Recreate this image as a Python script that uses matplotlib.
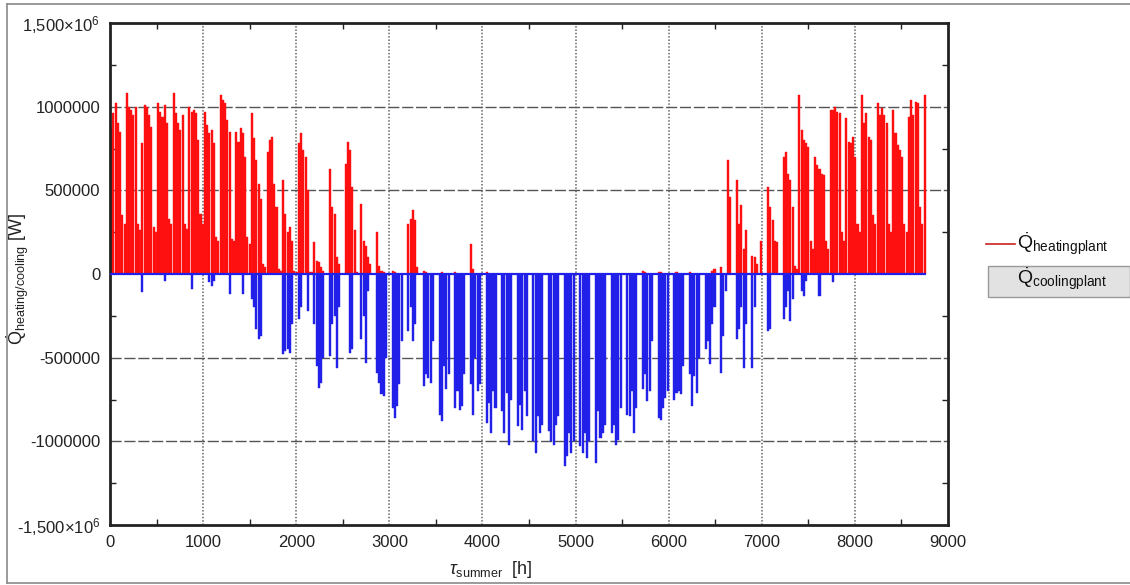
import numpy as np
import matplotlib
matplotlib.use("Agg")
import matplotlib.pyplot as plt
from matplotlib.patches import Rectangle
from matplotlib.lines import Line2D

plt.rcParams['font.family'] = ['Liberation Sans', 'DejaVu Sans']
plt.rcParams['mathtext.fontset'] = 'custom'
plt.rcParams['mathtext.rm'] = 'Liberation Sans'
plt.rcParams['mathtext.it'] = 'Liberation Sans:italic'
plt.rcParams['axes.unicode_minus'] = False

# Daily peak heating load of the plant [kW], one row per week (Mon..Sun)
heating_kw = [
    [880, 960, 1020, 900, 850, 350, 300],
    [1080, 1000, 980, 950, 1000, 300, 260],
    [780, 1010, 1000, 950, 880, 280, 250],
    [1020, 970, 940, 1010, 900, 330, 300],
    [1080, 960, 900, 860, 950, 300, 270],
    [1000, 970, 980, 960, 800, 360, 300],
    [970, 890, 840, 860, 780, 220, 200],
    [1070, 1040, 1020, 920, 850, 210, 200],
    [850, 790, 870, 840, 700, 220, 180],
    [960, 810, 680, 540, 450, 60, 40],
    [730, 800, 820, 540, 400, 30, 20],
    [560, 360, 250, 280, 200, 20, 10],
    [780, 840, 740, 700, 500, 10, 10],
    [190, 80, 70, 40, 20, 0, 0],
    [630, 400, 360, 100, 60, 0, 0],
    [660, 790, 740, 520, 260, 10, 0],
    [420, 200, 170, 100, 60, 0, 0],
    [250, 50, 20, 10, 0, 0, 0],
    [20, 10, 0, 0, 0, 0, 0],
    [300, 330, 380, 320, 40, 0, 0],
    [20, 10, 0, 0, 0, 0, 0],
    [0, 10, 0, 0, 0, 0, 0],
    [10, 0, 0, 0, 0, 0, 0],
    [180, 30, 0, 0, 0, 0, 0],
    [10, 0, 0, 0, 0, 0, 0],
    [0, 0, 0, 0, 0, 0, 0],
    [0, 0, 0, 0, 0, 0, 0],
    [0, 0, 0, 0, 0, 0, 0],
    [0, 0, 0, 0, 0, 0, 0],
    [0, 0, 0, 0, 0, 0, 0],
    [0, 0, 0, 0, 0, 0, 0],
    [0, 0, 0, 0, 0, 0, 0],
    [0, 0, 0, 0, 0, 0, 0],
    [0, 0, 0, 0, 0, 0, 0],
    [20, 10, 0, 0, 0, 0, 0],
    [10, 10, 0, 0, 0, 0, 0],
    [0, 10, 0, 0, 0, 0, 0],
    [10, 0, 0, 0, 0, 0, 0],
    [0, 0, 0, 20, 30, 0, 0],
    [40, 0, 0, 680, 460, 0, 0],
    [560, 300, 410, 150, 260, 0, 0],
    [110, 100, 60, 0, 200, 0, 0],
    [520, 400, 320, 200, 190, 0, 0],
    [700, 730, 600, 560, 400, 50, 30],
    [1070, 860, 800, 780, 760, 200, 150],
    [700, 650, 630, 600, 590, 200, 150],
    [980, 980, 1000, 970, 960, 250, 200],
    [930, 790, 780, 820, 700, 300, 250],
    [1070, 900, 960, 820, 800, 350, 300],
    [1020, 950, 990, 950, 900, 300, 250],
    [980, 840, 770, 740, 700, 300, 250],
    [940, 1040, 950, 1030, 1020, 400, 300],
    [1070],
]

# Daily peak cooling load of the plant [kW] (negative), one row per week
cooling_kw = [
    [0, 0, 0, 0, 0, 0, 0],
    [0, 0, 0, 0, 0, 0, 0],
    [-110, 0, 0, 0, 0, 0, 0],
    [0, 0, 0, -40, 0, 0, 0],
    [0, 0, 0, 0, 0, 0, 0],
    [0, -90, 0, 0, 0, 0, 0],
    [0, 0, -50, -70, -40, 0, 0],
    [0, 0, 0, 0, -120, 0, 0],
    [0, 0, 0, -120, 0, 0, 0],
    [-150, -200, -330, -390, -370, 0, 0],
    [0, 0, 0, 0, 0, 0, 0],
    [-480, -460, -450, -470, -300, 0, 0],
    [-270, -200, 0, 0, -220, 0, 0],
    [-300, -550, -680, -650, -500, 0, 0],
    [-490, -300, -250, -560, -200, 0, 0],
    [0, 0, -470, -450, 0, 0, 0],
    [-390, -250, -530, -100, 0, 0, 0],
    [-590, -650, -720, -730, -500, 0, 0],
    [-800, -860, -790, -660, -400, 0, 0],
    [-340, -200, -400, -300, 0, 0, 0],
    [-670, -600, -620, -650, -400, 0, 0],
    [-840, -880, -550, -690, -600, 0, 0],
    [-800, -700, -810, -790, -600, 0, 0],
    [-660, -840, -500, -700, -660, 0, 0],
    [-890, -770, -950, -700, -800, 0, 0],
    [-820, -950, -710, -1020, -750, 0, 0],
    [-910, -780, -930, -700, -850, 0, 0],
    [-1000, -1070, -850, -950, -900, 0, 0],
    [-940, -1000, -1020, -900, -850, 0, 0],
    [-1150, -1090, -950, -1070, -1000, 0, 0],
    [-1030, -1070, -950, -1100, -1000, 0, 0],
    [-1130, -820, -980, -950, -900, 0, 0],
    [-950, -900, -1020, -990, -800, 0, 0],
    [-840, -850, -700, -950, -800, 0, 0],
    [-690, -600, -760, -700, -400, 0, 0],
    [-860, -870, -800, -740, -700, 0, 0],
    [-750, -710, -700, -720, -550, 0, 0],
    [-600, -790, -610, -710, -500, 0, 0],
    [-450, -400, -540, -300, -200, 0, 0],
    [-590, -370, -100, 0, 0, 0, 0],
    [-390, -330, -200, -560, -300, 0, 0],
    [-560, -200, 0, 0, 0, 0, 0],
    [-340, -330, 0, 0, 0, 0, 0],
    [-270, -200, -100, -280, -150, 0, 0],
    [0, -100, -130, -40, 0, 0, 0],
    [0, 0, -130, 0, 0, 0, 0],
    [0, -50, 0, 0, 0, 0, 0],
    [0, 0, 0, 0, 0, 0, 0],
    [0, 0, 0, 0, 0, 0, 0],
    [0, 0, 0, 0, 0, 0, 0],
    [0, 0, 0, 0, 0, 0, 0],
    [0, 0, 0, 0, 0, 0, 0],
    [0],
]

x_ticks = [0, 1000, 2000, 3000, 4000, 5000, 6000, 7000, 8000, 9000]
y_ticks = [-1.5e6, -1.0e6, -5.0e5, 0, 5.0e5, 1.0e6, 1.5e6]
y_tick_labels = ['-1,500×10$^{6}$', '-1000000', '-500000', '0',
                 '500000', '1000000', '1,500×10$^{6}$']

heat = np.concatenate([np.array(w, float) for w in heating_kw]) * 1000.0
cool = np.concatenate([np.array(w, float) for w in cooling_kw]) * 1000.0
n_days = len(heat)
hours = np.arange(n_days) * 24 + 12

RED = '#ff1010'
BLUE = '#2020e8'

W, H = 1130, 585
fig = plt.figure(figsize=(W / 100, H / 100), dpi=100)
fig.patch.set_facecolor('white')
ax = fig.add_axes([110 / W, 1 - 525 / H, (948 - 110) / W, (525 - 23) / H])

ax.bar(hours, heat, width=22, color=RED, edgecolor=RED, lw=0.3, zorder=2)
ax.bar(hours, cool, width=22, color=BLUE, edgecolor=BLUE, lw=0.3, zorder=3)
ax.hlines(0, 0, n_days * 24, color=BLUE, lw=1.6, zorder=4)

ax.set_xlim(0, 9000)
ax.set_ylim(-1.5e6, 1.5e6)
ax.set_xticks(x_ticks)
ax.set_xticks(np.arange(500, 9000, 1000), minor=True)
ax.set_yticks(y_ticks)
ax.set_yticklabels(y_tick_labels)
ax.set_yticks(np.arange(-1.25e6, 1.5e6, 5e5), minor=True)
ax.tick_params(which='both', direction='in', top=True, right=True,
               labelsize=12, colors='#222222')
ax.tick_params(which='major', length=0, pad=7)
ax.tick_params(which='minor', length=4, width=1)

for x in x_ticks[1:-1]:
    ax.axvline(x, color='#666666', lw=1.1, ls=(0, (1, 1.2)), zorder=1)
for y in [-1.0e6, -5.0e5, 5.0e5, 1.0e6]:
    ax.axhline(y, color='#555555', lw=1.0, ls=(0, (8, 2)), zorder=1)

for s in ax.spines.values():
    s.set_linewidth(2.0)
    s.set_color('#222222')

fx = lambda px: px / W
fy = lambda py: 1 - py / H

fig.text(fx(18), fy(279), r'$\dot{\mathrm{Q}}_{\mathrm{heating/cooling}}$ [W]',
         rotation=90, ha='center', va='center', fontsize=13, color='#222222')
fig.text(fx(491), fy(570), r'$\tau_{\mathrm{summer}}$  [h]',
         ha='center', va='center', fontsize=13, color='#222222')

# legend drawn beside the axes
fig.add_artist(Rectangle((fx(988), fy(297)), fx(1130) - fx(988), fy(266) - fy(297),
                         transform=fig.transFigure, facecolor='#e2e2e2',
                         edgecolor='#9a9a9a', lw=1.0))
fig.add_artist(Line2D([fx(986), fx(1015)], [fy(244), fy(244)],
                      transform=fig.transFigure, color='#cc2222', lw=1.2))
fig.text(fx(1017), fy(244), r'$\dot{\mathrm{Q}}_{\mathrm{heatingplant}}$',
         ha='left', va='center', fontsize=14, color='#111111')
fig.text(fx(1017), fy(279), r'$\dot{\mathrm{Q}}_{\mathrm{coolingplant}}$',
         ha='left', va='center', fontsize=14, color='#111111')

# outer frame
for xs, ys in [([7, 7], [4, 583]), ([7, 1130], [583, 583]), ([7, 1130], [4, 4])]:
    fig.add_artist(Line2D([fx(v) for v in xs], [fy(v) for v in ys],
                          transform=fig.transFigure, color='#8a8a8a', lw=1.2))

fig.savefig('out.png', dpi=100, facecolor='white')
